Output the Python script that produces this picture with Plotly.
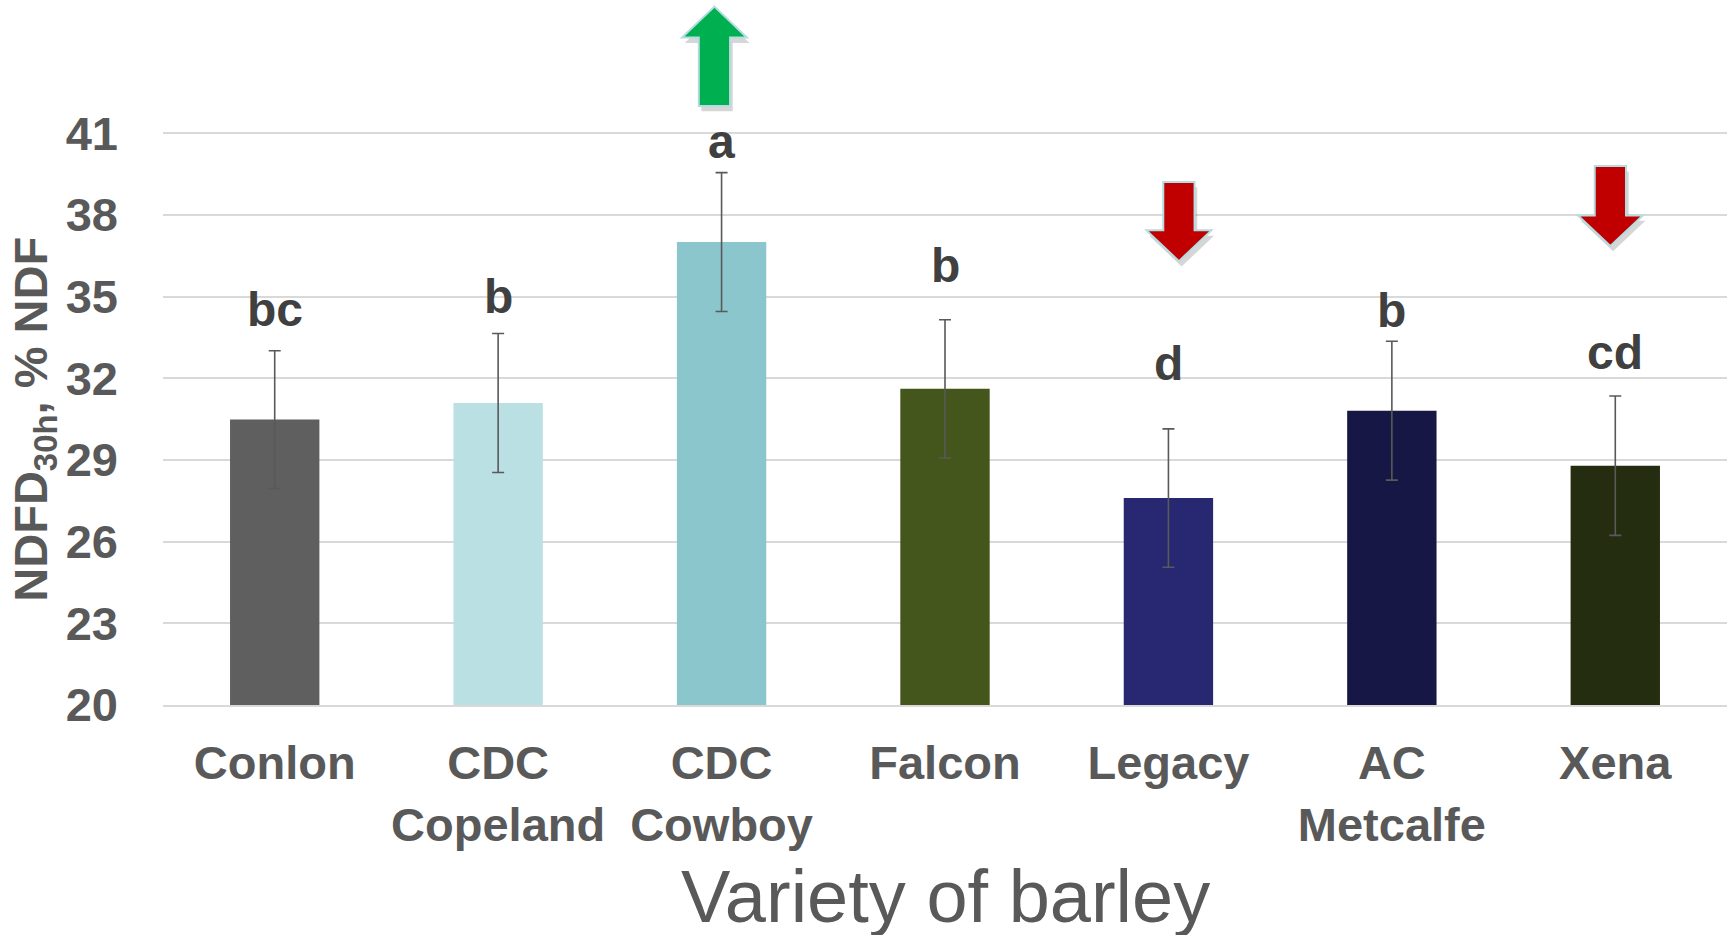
import plotly.graph_objects as go

# ---- data ----
varieties = ["Conlon", "CDC Copeland", "CDC Cowboy", "Falcon", "Legacy", "AC Metcalfe", "Xena"]
tick_labels = ["Conlon", "CDC<br>Copeland", "CDC<br>Cowboy", "Falcon", "Legacy", "AC<br>Metcalfe", "Xena"]
ndfd_30h = [30.48, 31.09, 37.00, 31.61, 27.60, 30.81, 28.79]
std_err = [2.53, 2.55, 2.55, 2.54, 2.54, 2.55, 2.56]
letters = ["bc", "b", "a", "b", "d", "b", "cd"]
letter_y = [34.54, 35.01, 40.70, 36.13, 32.55, 34.48, 32.95]
y_ticks = [20, 23, 26, 29, 32, 35, 38, 41]

# ---- styling ----
bar_colors = ["#5f5f5f", "#bbe0e3", "#8bc6cd", "#44561b", "#282872", "#161745", "#252d11"]
TXT = "#595959"
FONT = "Liberation Sans, Arial, sans-serif"

# arrow decorations (index of bar, direction, geometry in axis units)
arrows = [
    dict(idx=2, dx=-0.032, tail=42.00, base=44.51, tip=45.65, color="#00b050"),
    dict(idx=4, dx=0.047, tail=39.21, base=37.43, tip=36.30, color="#c00000"),
    dict(idx=6, dx=-0.022, tail=39.79, base=37.98, tip=36.86, color="#c00000"),
]
HEAD_HALF = 0.145
SHAFT_HALF = 0.070

xs = list(range(len(varieties)))

fig = go.Figure()
fig.add_trace(go.Bar(
    x=xs, y=ndfd_30h, width=0.4,
    marker=dict(color=bar_colors, line=dict(width=0)),
    error_y=dict(type="data", array=std_err, visible=True,
                 color="#595959", thickness=1.6, width=6),
    hoverinfo="skip", showlegend=False,
))

annotations = []
for i, (lt, ly) in enumerate(zip(letters, letter_y)):
    annotations.append(dict(x=i, y=ly, xref="x", yref="y", text="<b>%s</b>" % lt,
                            showarrow=False, xanchor="center", yanchor="middle",
                            font=dict(family=FONT, size=48, color="#404040")))

annotations.append(dict(x=(34 - 163) / 1564, y=(705.5 - 420) / 705.5, xref="paper", yref="paper",
                        text="<b>NDFD<sub>30h</sub>, % NDF</b>", textangle=-90,
                        showarrow=False, xanchor="center", yanchor="middle",
                        font=dict(family=FONT, size=47, color=TXT)))
annotations.append(dict(x=0.5, y=(705.5 - 897) / 705.5, xref="paper", yref="paper",
                        text="Variety of barley", showarrow=False,
                        xanchor="center", yanchor="middle",
                        font=dict(family=FONT, size=74, color=TXT)))

shapes = []
def arrow_path(cx, a, ox=0.0, oy=0.0):
    pts = [(cx - SHAFT_HALF, a["tail"]), (cx - SHAFT_HALF, a["base"]),
           (cx - HEAD_HALF, a["base"]), (cx, a["tip"]),
           (cx + HEAD_HALF, a["base"]), (cx + SHAFT_HALF, a["base"]),
           (cx + SHAFT_HALF, a["tail"])]
    return "M " + " L ".join("%.4f,%.4f" % (px + ox, py + oy) for px, py in pts) + " Z"

for a in arrows:
    cx = a["idx"] + a["dx"]
    shapes.append(dict(type="path", xref="x", yref="y", path=arrow_path(cx, a, 0.012, -0.2),
                       fillcolor="rgba(0,0,0,0.16)", line=dict(width=0), layer="above"))
    shapes.append(dict(type="path", xref="x", yref="y", path=arrow_path(cx, a),
                       fillcolor=a["color"], line=dict(color="#b3dde1", width=2), layer="above"))

fig.update_layout(
    width=1727, height=935,
    margin=dict(l=163, r=0, t=0, b=230, pad=0),
    paper_bgcolor="white", plot_bgcolor="white",
    font=dict(family=FONT, color=TXT),
    annotations=annotations, shapes=shapes,
    showlegend=False,
)
fig.update_xaxes(
    range=[-0.5, 6.5], tickmode="array", tickvals=xs, ticktext=tick_labels,
    showgrid=False, zeroline=False, showline=True, linecolor="#d9d9d9", linewidth=2,
    ticks="", ticklabelstandoff=16,
    tickfont=dict(family=FONT, size=47, color=TXT, weight="bold"),
)
fig.update_yaxes(
    range=[20, 45.89], tickmode="array", tickvals=y_ticks,
    ticktext=[str(v) for v in y_ticks],
    showgrid=True, gridcolor="#d9d9d9", gridwidth=2, zeroline=False, showline=False,
    ticks="", ticklabelstandoff=44,
    tickfont=dict(family=FONT, size=47, color=TXT, weight="bold"),
)

fig.write_html("out.html", config={"displayModeBar": False, "staticPlot": True},
               post_script="document.body.style.margin='0';document.body.style.overflow='hidden';")
